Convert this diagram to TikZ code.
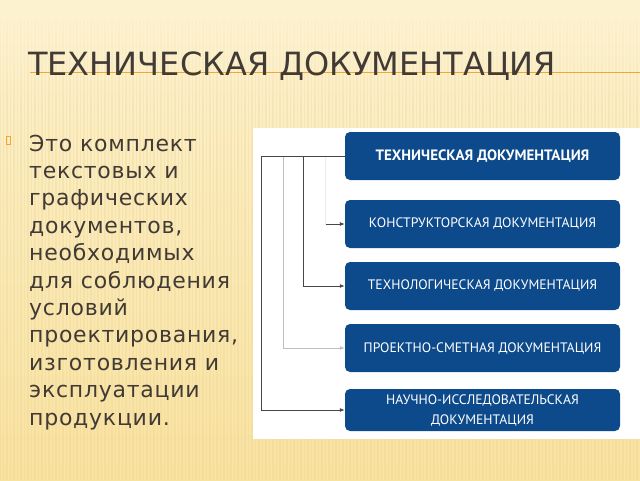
\documentclass[tikz,border=0pt]{standalone}
\usepackage{fontspec}
\setmainfont{DejaVu Sans}
\newfontfamily\bodyfont[LetterSpace=3.4]{DejaVu Sans}
\newfontfamily\boxfont{PT Sans}
\usetikzlibrary{arrows.meta,fadings}

\definecolor{creamTop}{RGB}{253,242,208}
\definecolor{creamBottom}{RGB}{248,226,160}
\definecolor{stripeCol}{RGB}{236,210,140}
\definecolor{titleLine}{RGB}{240,168,52}
\definecolor{textBrown}{RGB}{66,58,52}
\definecolor{docBlue}{RGB}{12,74,140}

\tikzfading[name=fadeDown,top color=transparent!0,bottom color=transparent!100]

\begin{document}
\begin{tikzpicture}[x=1pt,y=-1pt,
  docbox/.style={fill=docBlue,rounded corners=5pt,minimum width=275pt,
    text=white,align=center,font=\boxfont\fontsize{13.7}{20}\selectfont},
  conn/.style={line width=0.9pt,-{Latex[length=5pt,width=4pt]}},
  darkLine/.style={draw=black!72},
  lightLine/.style={draw=black!25},
  faintLine/.style={draw=black!8}]
% Parameters
\def\boxL{345}
\def\boxR{620}
\pgfmathsetmacro\boxX{(\boxL+\boxR)/2}

\useasboundingbox (0,0) rectangle (640,480);

% Background
\shade[top color=creamTop,bottom color=creamBottom] (0,0) rectangle (640,480);
\foreach \x in {0,3.5,...,640}
  \draw[stripeCol,opacity=0.3,line width=1.1pt] (\x,20) -- (\x,480);
\fill[creamTop,path fading=fadeDown] (0,0) rectangle (640,110);

% Title
\draw[titleLine,line width=1.5pt] (30,72.5) -- (640,72.5);
\node[anchor=base west,inner sep=0,text=textBrown,font=\fontsize{32}{36}\selectfont]
  (title) at (28,75) {ТЕХНИЧЕСКАЯ ДОКУМЕНТАЦИЯ};

% Bullet text
\draw[titleLine,line width=0.6pt] (6,136) rectangle (10,144);
\node[anchor=north west,inner sep=0,align=left,text=textBrown,
  font=\bodyfont\fontsize{22}{27.4}\selectfont] (bodyText) at (29,134.5)
  {Это комплект\\текстовых и\\графических\\документов,\\необходимых\\для соблюдения\\условий\\проектирования,\\изготовления и\\эксплуатации\\продукции.};

% Diagram panel
\fill[white] (253,128) rectangle (640,439);

\node[docbox,minimum height=48pt,font=\boxfont\bfseries\fontsize{15}{20}\selectfont]
  (techDoc) at (\boxX,156) {ТЕХНИЧЕСКАЯ ДОКУМЕНТАЦИЯ};
\node[docbox,minimum height=48pt] (constrDoc) at (\boxX,224) {КОНСТРУКТОРСКАЯ ДОКУМЕНТАЦИЯ};
\node[docbox,minimum height=48pt] (technolDoc) at (\boxX,286) {ТЕХНОЛОГИЧЕСКАЯ ДОКУМЕНТАЦИЯ};
\node[docbox,minimum height=48pt] (projDoc) at (\boxX,348) {ПРОЕКТНО-СМЕТНАЯ ДОКУМЕНТАЦИЯ};
\node[docbox,minimum height=42pt] (sciDoc) at (\boxX,410) {НАУЧНО-ИССЛЕДОВАТЕЛЬСКАЯ\\ДОКУМЕНТАЦИЯ};

% Connectors
\draw[conn,faintLine] (techDoc.west) -- ++(-19,0) |- (constrDoc.west);
\draw[conn,darkLine] ([xshift=-19pt]constrDoc.west) -- (constrDoc.west);
\draw[conn,lightLine] (techDoc.west) -- ++(-61,0) |- (projDoc.west);
\draw[conn,darkLine] (techDoc.west) -- ++(-41,0) |- (technolDoc.west);
\draw[conn,darkLine] (techDoc.west) -- ++(-83,0) |- (sciDoc.west);
\end{tikzpicture}
\end{document}
